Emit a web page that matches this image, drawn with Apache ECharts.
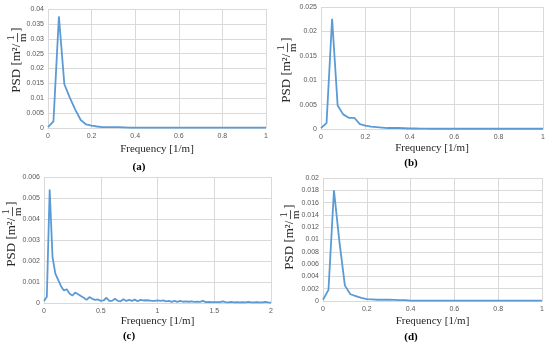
<!DOCTYPE html>
<html>
<head>
<meta charset="utf-8">
<script src="https://cdn.jsdelivr.net/npm/echarts@6/dist/echarts.min.js"></script>
<style>html,body{margin:0;padding:0;background:#fff}#c{width:550px;height:346px}</style>
</head>
<body>
<div id="c"></div>
<script>
// Frequency grids [1/m]
const freq1 = [0,0.025,0.05,0.075,0.1,0.125,0.15,0.175,0.2,0.225,0.25,0.275,0.3,0.325,0.35,0.375,0.4,0.425,0.45,0.475,0.5,0.525,0.55,0.575,0.6,0.625,0.65,0.675,0.7,0.725,0.75,0.775,0.8,0.825,0.85,0.875,0.9,0.925,0.95,0.975,1.0];
const freq2 = [0,0.025,0.05,0.075,0.1,0.125,0.15,0.175,0.2,0.225,0.25,0.275,0.3,0.325,0.35,0.375,0.4,0.425,0.45,0.475,0.5,0.525,0.55,0.575,0.6,0.625,0.65,0.675,0.7,0.725,0.75,0.775,0.8,0.825,0.85,0.875,0.9,0.925,0.95,0.975,1.0,1.025,1.05,1.075,1.1,1.125,1.15,1.175,1.2,1.225,1.25,1.275,1.3,1.325,1.35,1.375,1.4,1.425,1.45,1.475,1.5,1.525,1.55,1.575,1.6,1.625,1.65,1.675,1.7,1.725,1.75,1.775,1.8,1.825,1.85,1.875,1.9,1.925,1.95,1.975,2.0];

// PSD values
const psdA = [0.0003,0.0022,0.0375,0.0147,0.0102,0.0062,0.0027,0.0012,0.0008,0.0005,0.0003,0.0003,0.0003,0.0003,0.0002,0.0001,0.0001,0.0001,0.0001,0.0001,0.0001,0.0001,0.0001,0.0001,0.0001,0.0001,0.0001,0.0001,0.0001,0.0001,0.0001,0.0001,0.0001,0.0001,0.0001,0.0001,0.0001,0.0001,0.0001,0.0001,0.0001];
const psdB = [0.0002,0.0012,0.0226,0.0048,0.003,0.0023,0.0023,0.001,0.0007,0.0005,0.0004,0.0003,0.0002,0.0002,0.0002,0.00015,0.0001,0.0001,0.00008,0.00006,0.00005,0.00005,0.00005,0.00005,0.00005,0.00005,0.00005,0.00005,0.00005,0.00005,0.00005,0.00005,0.00005,0.00005,0.00005,0.00005,0.00005,0.00005,0.00005,0.00005,0.00005];
const psdC = [0.0001,0.0003,0.0054,0.0022,0.0014,0.0011,0.0008,0.0006,0.00065,0.00045,0.00035,0.0005,0.00042,0.00033,0.00025,0.00015,0.00028,0.0002,0.00015,0.00017,0.0001,0.00012,0.00025,0.0001,0.0001,0.0002,0.0001,0.00008,0.00018,0.0001,0.00015,0.0001,0.00016,0.00008,0.00015,0.00012,0.00013,0.00012,0.0001,0.0001,0.00013,0.0001,0.00012,0.00008,0.0001,0.00005,0.0001,0.00005,0.0001,0.00006,0.00008,0.00006,0.00008,0.00005,0.00007,0.00005,0.0001,0.00004,0.00005,0.00004,0.00004,0.00004,0.00004,0.00008,0.00004,0.00003,0.00005,0.00003,0.00004,0.00003,0.00004,0.00003,0.00005,0.00003,0.00003,0.00004,0.00003,0.00003,0.00005,0.00003,0.00002];
const psdD = [0.0002,0.0018,0.018,0.0096,0.0025,0.0011,0.0008,0.0005,0.0003,0.00025,0.0002,0.0002,0.0002,0.00018,0.00015,0.00015,0.00005,0.00005,0.00005,0.00005,0.00005,0.00005,0.00005,0.00005,0.00005,0.00005,0.00005,0.00005,0.00005,0.00005,0.00005,0.00005,0.00005,0.00005,0.00005,0.00005,0.00005,0.00005,0.00005,0.00005,0.00005];

const xTitle = 'Frequency [1/m]';
const captions = ['(a)', '(b)', '(c)', '(d)'];

const panels = [
  {f: freq1, v: psdA, xmax: 1, xint: 0.2, ymax: 0.04, yint: 0.005, grid: {left: 48, top: 9, width: 218, height: 119}, gap: 16, yc: [17, 60], cap: [139, 167]},
  {f: freq1, v: psdB, xmax: 1, xint: 0.2, ymax: 0.025, yint: 0.005, grid: {left: 321, top: 7, width: 222, height: 122}, gap: 14, yc: [287, 70], cap: [411, 163]},
  {f: freq2, v: psdC, xmax: 2, xint: 0.5, ymax: 0.006, yint: 0.001, grid: {left: 44, top: 177, width: 227, height: 126}, gap: 13, yc: [12, 234], cap: [129, 336]},
  {f: freq1, v: psdD, xmax: 1, xint: 0.2, ymax: 0.02, yint: 0.002, grid: {left: 323, top: 178, width: 219, height: 123}, gap: 15, yc: [290, 237], cap: [411, 337]}
];

const serif = '"Liberation Serif", "DejaVu Serif", serif';
const mainFont = '13px ' + serif;
const fracFont = '11px ' + serif;
const ctx = document.createElement('canvas').getContext('2d');
ctx.font = mainFont;
const wMain = ctx.measureText('PSD [m²/').width;
const wBr = ctx.measureText(']').width;
const fracW = 9;
const totalW = wMain + 1.5 + fracW + 1.5 + wBr;

function yTitle(cx, cy) {
  const x0 = wMain + 1.5;
  return {
    type: 'group', x: cx, y: cy + totalW / 2, rotation: Math.PI / 2,
    children: [
      {type: 'text', x: 0, y: 0, style: {text: 'PSD [m²/', font: mainFont, fill: '#262626', textAlign: 'left', textVerticalAlign: 'middle'}},
      {type: 'text', x: x0 + fracW / 2, y: -5.5, style: {text: '1', font: fracFont, fill: '#262626', textAlign: 'center', textVerticalAlign: 'middle'}},
      {type: 'line', shape: {x1: x0, y1: 0.5, x2: x0 + fracW, y2: 0.5}, style: {stroke: '#262626', lineWidth: 0.8}},
      {type: 'text', x: x0 + fracW / 2, y: 6.5, style: {text: 'm', font: fracFont, fill: '#262626', textAlign: 'center', textVerticalAlign: 'middle'}},
      {type: 'text', x: x0 + fracW + 1.5, y: 0, style: {text: ']', font: mainFont, fill: '#262626', textAlign: 'left', textVerticalAlign: 'middle'}}
    ]
  };
}

const gridColor = '#d9d9d9';
const labelColor = '#595959';

const option = {
  animation: false,
  backgroundColor: '#ffffff',
  grid: panels.map(p => Object.assign({containLabel: false}, p.grid)),
  xAxis: panels.map((p, i) => ({
    type: 'value', gridIndex: i, min: 0, max: p.xmax, interval: p.xint,
    name: xTitle, nameLocation: 'middle', nameGap: p.gap,
    nameTextStyle: {fontFamily: serif, fontSize: 11, color: '#262626'},
    axisLine: {show: true, lineStyle: {color: gridColor, width: 1}},
    axisTick: {show: false},
    axisLabel: {fontSize: 7, color: labelColor, margin: 5, fontFamily: 'Liberation Sans'},
    splitLine: {show: true, lineStyle: {color: gridColor, width: 1}}
  })),
  yAxis: panels.map((p, i) => ({
    type: 'value', gridIndex: i, min: 0, max: p.ymax, interval: p.yint,
    axisLine: {show: false},
    axisTick: {show: false},
    axisLabel: {fontSize: 7, color: labelColor, margin: 4, fontFamily: 'Liberation Sans'},
    splitLine: {show: true, lineStyle: {color: gridColor, width: 1}}
  })),
  series: panels.map((p, i) => ({
    type: 'line', xAxisIndex: i, yAxisIndex: i,
    data: p.f.map((f, k) => [f, p.v[k]]),
    showSymbol: false, symbol: 'none',
    lineStyle: {color: '#5b9bd5', width: 1.8},
    itemStyle: {color: '#5b9bd5'}
  })),
  graphic: panels.map(p => yTitle(p.yc[0], p.yc[1])).concat(
    panels.map((p, i) => ({
      type: 'text', x: p.cap[0], y: p.cap[1],
      style: {text: captions[i], font: 'bold 11px ' + serif, fill: '#000', textAlign: 'center', textVerticalAlign: 'middle'}
    }))
  )
};

const chart = echarts.init(document.getElementById('c'), null, {renderer: 'canvas'});
chart.setOption(option);
</script>
</body>
</html>
